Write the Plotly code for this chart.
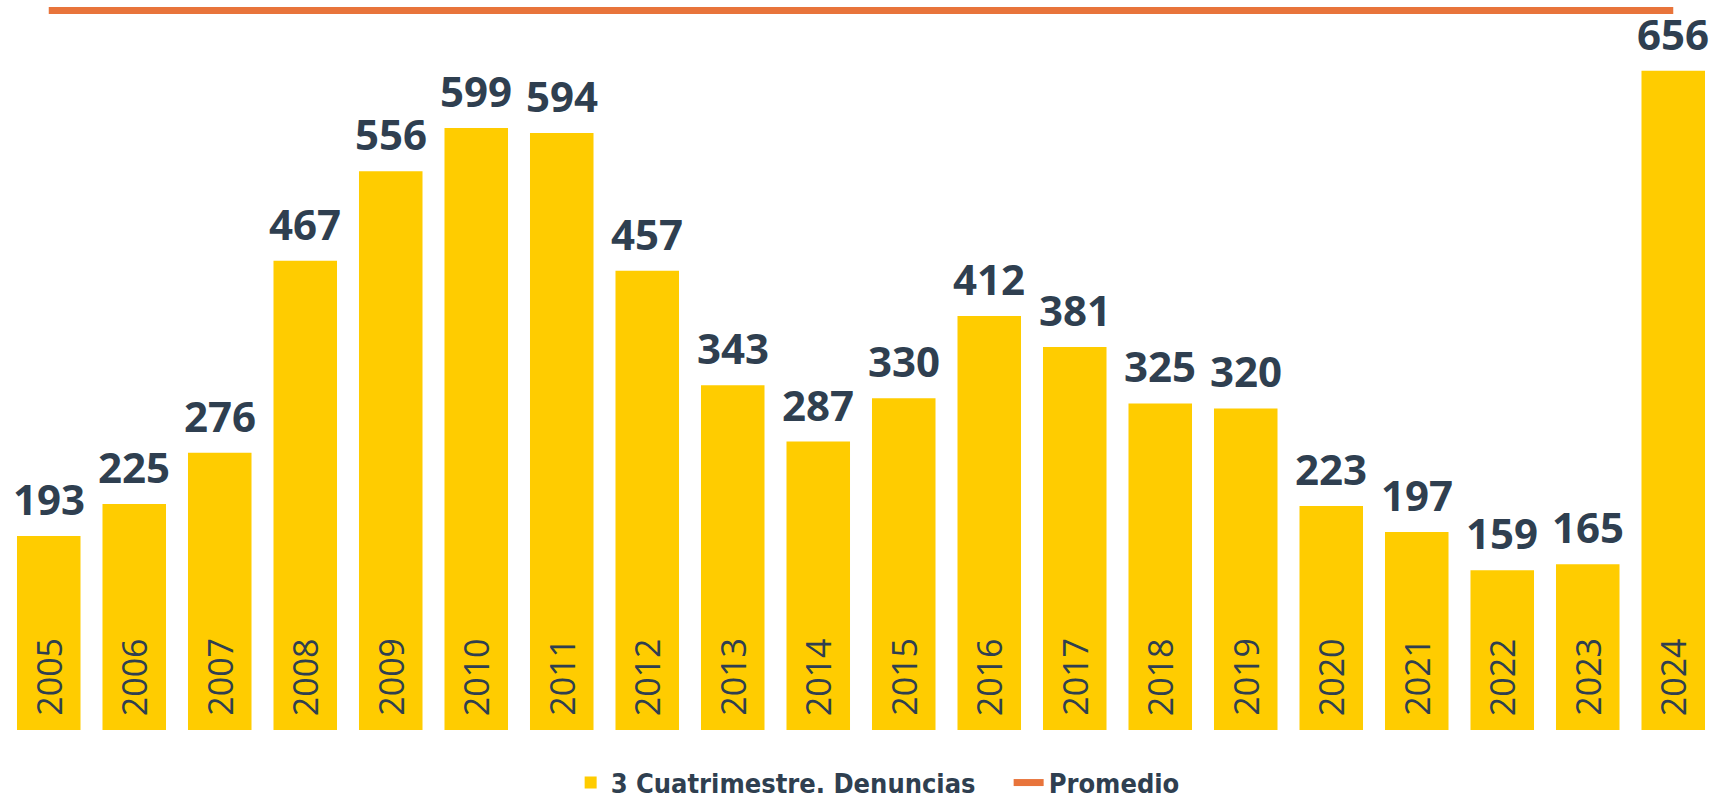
import plotly.graph_objects as go

years = ["2005", "2006", "2007", "2008", "2009", "2010", "2011", "2012", "2013", "2014",
         "2015", "2016", "2017", "2018", "2019", "2020", "2021", "2022", "2023", "2024"]
denuncias = [193, 225, 276, 467, 556, 599, 594, 457, 343, 287,
             330, 412, 381, 325, 320, 223, 197, 159, 165, 656]
promedio = [716, 716, 716, 716, 716, 716, 716, 716, 716, 716,
            716, 716, 716, 716, 716, 716, 716, 716, 716, 716]

YELLOW = "#FFCC00"
ORANGE = "#E8743B"
TEXT = "#2F3F50"

fig = go.Figure()
fig.add_trace(go.Bar(
    x=years, y=denuncias, name="3 Cuatrimestre. Denuncias",
    marker=dict(color=YELLOW, line=dict(width=0)),
    hoverinfo="x+y",
))
fig.add_trace(go.Scatter(
    x=years, y=promedio, name="Promedio", mode="lines",
    line=dict(color=ORANGE, width=7),
))

annotations = []
for i, (yr, v) in enumerate(zip(years, denuncias)):
    # category axis: annotations positioned by category index
    annotations.append(dict(
        x=i, y=v, xref="x", yref="y", text=str(v), showarrow=False,
        yanchor="bottom", yshift=7,
        font=dict(family="Open Sans", size=42, color=TEXT, weight="bold"),
    ))
    annotations.append(dict(
        x=i, y=0, xref="x", yref="y", text=yr, showarrow=False,
        textangle=-90, yanchor="bottom", yshift=12,
        font=dict(family="Open Sans", size=34, color=TEXT),
    ))

fig.update_layout(
    template="none",
    width=1736, height=801,
    margin=dict(l=6, r=20, t=0, b=71, autoexpand=False),
    paper_bgcolor="white", plot_bgcolor="white",
    bargap=0.257,
    showlegend=True,
    legend=dict(orientation="h", x=0.3302, xanchor="left", y=-0.0726, yanchor="middle",
                font=dict(family="DejaVu Sans Condensed, Open Sans", size=27, color=TEXT, weight="bold"),
                itemwidth=30, entrywidth=393, entrywidthmode="pixels",
                traceorder="normal", bgcolor="rgba(0,0,0,0)"),
    xaxis=dict(type="category", showticklabels=False, showgrid=False, zeroline=False,
               showline=False, ticks="", range=[-0.5, 19.5], automargin=False),
    yaxis=dict(showticklabels=False, showgrid=False, zeroline=False, showline=False,
               ticks="", range=[0, 726.4], automargin=False),
    annotations=annotations,
)

fig.write_html("out.html", config={"displayModeBar": False},
               post_script="document.body.style.margin='0';")
